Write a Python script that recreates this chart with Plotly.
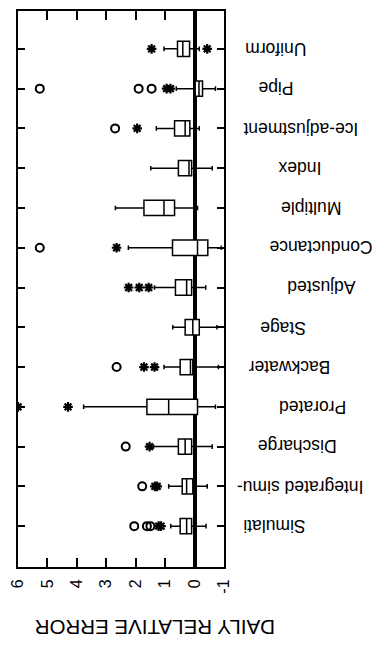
import plotly.graph_objects as go

categories = ["Simulati", "Integrated simu-", "Discharge", "Prorated", "Backwater", "Stage",
              "Adjusted", "Conductance", "Multiple", "Index", "Ice-adjustment", "Pipe", "Uniform"]
q1 =          [0.10, 0.06, 0.10, -0.10, 0.06, -0.16, 0.10, -0.45, 0.68, 0.10, 0.16, -0.27, 0.17]
median =      [0.27, 0.27, 0.32, 0.88, 0.14, 0.06, 0.27, -0.10, 1.04, 0.19, 0.32, -0.15, 0.40]
q3 =          [0.49, 0.42, 0.55, 1.62, 0.49, 0.32, 0.65, 0.75, 1.72, 0.55, 0.68, -0.02, 0.58]
lowerfence =  [-0.39, -0.43, -0.60, -0.71, -0.81, -0.76, -0.38, -0.91, -0.10, -0.60, -0.16, -0.71, -0.16]
upperfence =  [0.81, 0.88, 1.40, 3.77, 1.04, 0.74, 1.36, 2.25, 2.69, 1.49, 1.30, 0.62, 1.04]

star_cat = ["Simulati", "Simulati", "Integrated simu-", "Integrated simu-", "Discharge",
            "Prorated", "Prorated", "Backwater", "Backwater", "Adjusted", "Adjusted", "Adjusted",
            "Conductance", "Ice-adjustment", "Pipe", "Pipe", "Uniform", "Uniform"]
star_val = [1.14, 1.22, 1.27, 1.35, 1.53,
            4.30, 6.00, 1.36, 1.72, 1.56, 1.88, 2.24,
            2.65, 1.95, 0.82, 0.95, 1.46, -0.43]
circle_cat = ["Simulati", "Simulati", "Simulati", "Integrated simu-", "Discharge", "Backwater",
              "Conductance", "Ice-adjustment", "Pipe", "Pipe", "Pipe"]
circle_val = [2.05, 1.62, 1.50, 1.78, 2.34, 2.65,
              5.26, 2.70, 1.46, 1.90, 5.26]

x_ticks = [6, 5, 4, 3, 2, 1, 0, -1]
x_title = "DAILY RELATIVE ERROR"
# horizontal centre of each label, in window pixels
label_px = [277, 303, 300, 317, 292, 285, 326, 325, 315, 303, 304, 278, 278]

FONT = "Liberation Sans, Arial, Helvetica, sans-serif"
OFF = 8                      # default page body margin of the browser
W, H = 384 - OFF, 645 - OFF
L, T = 1, 1
PW, PH = 215, 558
R, B = W - L - PW, H - T - PH
px_per = (526 - 47) / 12
y_top = 12 + ((47 - OFF) - T) / px_per
y_bot = -((T + PH) - (526 - OFF)) / px_per

fig = go.Figure()
fig.add_trace(go.Box(
    y=categories, q1=q1, median=median, q3=q3,
    lowerfence=lowerfence, upperfence=upperfence,
    orientation="h", boxpoints=False,
    fillcolor="white", line=dict(color="black", width=1.5),
    whiskerwidth=0.3, showlegend=False, hoverinfo="skip"))
fig.add_trace(go.Scatter(
    x=star_val, y=star_cat, mode="markers", showlegend=False,
    marker=dict(symbol="asterisk-open", size=8, color="black",
                line=dict(color="black", width=2.2))))
fig.add_trace(go.Scatter(
    x=circle_val, y=circle_cat, mode="markers", showlegend=False,
    marker=dict(symbol="circle-open", size=8, color="black", line=dict(color="black", width=2))))

for cat, px in zip(categories, label_px):
    fig.add_annotation(x=(px - OFF - L) / PW, xref="paper", y=cat, yref="y",
                       text=cat, textangle=180, showarrow=False,
                       xanchor="center", yanchor="middle",
                       font=dict(family=FONT, size=17.5, color="black"))

fig.add_annotation(x=(152 - OFF - L) / PW, xref="paper",
                   y=-((627 - OFF) - (T + PH)) / PH, yref="paper",
                   text=x_title, textangle=180, showarrow=False,
                   xanchor="center", yanchor="middle",
                   font=dict(family=FONT, size=20.5, color="black"))

fig.update_layout(
    width=W, height=H, margin=dict(l=L, r=R, t=T, b=B, pad=0),
    paper_bgcolor="white", plot_bgcolor="white",
    boxgap=0.45,
    font=dict(family=FONT, color="black"),
    xaxis=dict(range=[6, -1], tickvals=x_ticks, ticktext=[str(v) for v in x_ticks],
               tickangle=-90, ticks="inside", ticklen=9, tickwidth=1.5, tickcolor="black",
               ticklabeloverflow="allow", ticklabelstandoff=4,
               showline=True, linecolor="black", linewidth=2, mirror="ticks",
               showgrid=False, zeroline=True, zerolinecolor="black", zerolinewidth=4,
               tickfont=dict(family=FONT, size=16, color="black")),
    yaxis=dict(type="category", categoryorder="array", categoryarray=categories,
               range=[y_bot, y_top], ticks="inside", ticklen=7, tickwidth=1.5,
               tickcolor="black", showticklabels=False,
               showline=True, linecolor="black", linewidth=2, mirror="ticks",
               showgrid=False, zeroline=False),
)

fig.write_html("out.html")
